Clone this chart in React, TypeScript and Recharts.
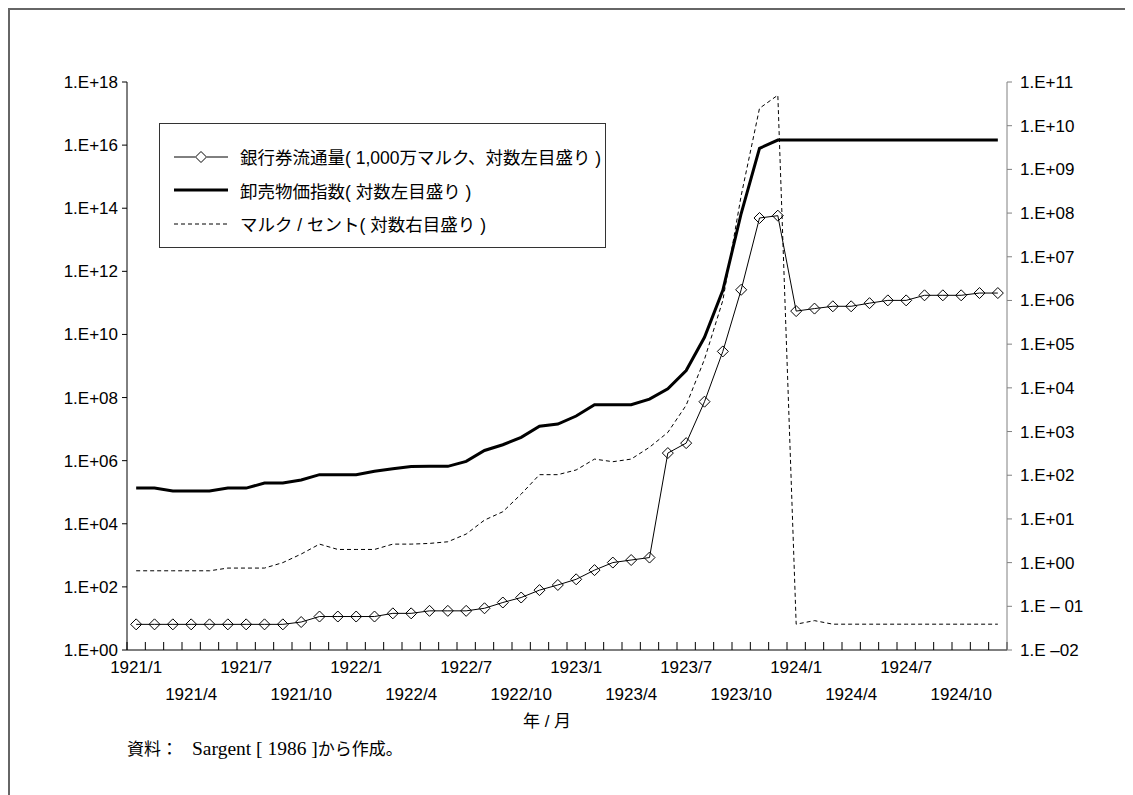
import { Legend, Line, LineChart, XAxis, YAxis } from "recharts";

const months = [
  "1921/1", "1921/2", "1921/3", "1921/4", "1921/5", "1921/6",
  "1921/7", "1921/8", "1921/9", "1921/10", "1921/11", "1921/12",
  "1922/1", "1922/2", "1922/3", "1922/4", "1922/5", "1922/6",
  "1922/7", "1922/8", "1922/9", "1922/10", "1922/11", "1922/12",
  "1923/1", "1923/2", "1923/3", "1923/4", "1923/5", "1923/6",
  "1923/7", "1923/8", "1923/9", "1923/10", "1923/11", "1923/12",
  "1924/1", "1924/2", "1924/3", "1924/4", "1924/5", "1924/6",
  "1924/7", "1924/8", "1924/9", "1924/10", "1924/11", "1924/12",
];

// 銀行券流通量 (1,000万マルク, left log axis)
const banknotes = [
  6.5, 6.5, 6.5, 6.5, 6.5, 6.5, 6.5, 6.5, 6.5, 7.7, 11.5, 11.5,
  11.5, 11.5, 14.5, 14.5, 17.4, 17.4, 17.4, 21, 32, 46, 79, 115,
  174, 340, 590, 710, 850, 1.74e6, 3.6e6, 7.4e7, 2.9e9, 2.6e11, 4.9e13, 5.8e13,
  5.5e10, 6.6e10, 7.8e10, 7.8e10, 9.8e10, 1.2e11, 1.2e11, 1.74e11, 1.74e11, 1.74e11, 2.05e11, 2.05e11,
];

// 卸売物価指数 (left log axis)
const wholesale = [
  1.35e5, 1.35e5, 1.1e5, 1.1e5, 1.1e5, 1.35e5, 1.35e5, 1.95e5, 1.95e5, 2.45e5, 3.6e5, 3.6e5,
  3.6e5, 4.6e5, 5.5e5, 6.5e5, 6.6e5, 6.6e5, 9.5e5, 2.1e6, 3.2e6, 5.5e6, 1.23e7, 1.45e7,
  2.6e7, 5.9e7, 5.9e7, 5.9e7, 8.9e7, 1.9e8, 7.2e8, 8.1e9, 2.5e11, 6.8e13, 7.9e15, 1.45e16,
  1.45e16, 1.45e16, 1.45e16, 1.45e16, 1.45e16, 1.45e16, 1.45e16, 1.45e16, 1.45e16, 1.45e16, 1.45e16, 1.45e16,
];

// マルク / セント (right log axis)
const exchange = [
  0.65, 0.65, 0.65, 0.65, 0.65, 0.75, 0.75, 0.75, 1.0, 1.57, 2.65, 2.0,
  2.0, 2.0, 2.65, 2.65, 2.75, 3.0, 4.5, 9.4, 14.6, 37, 103, 103,
  132, 234, 204, 234, 437, 955, 4000, 4.5e4, 1.0e6, 2.5e8, 2.5e10, 5.0e10,
  0.039, 0.047, 0.039, 0.039, 0.039, 0.039, 0.039, 0.039, 0.039, 0.039, 0.039, 0.039,
];

const leftTicks = [1, 1e2, 1e4, 1e6, 1e8, 1e10, 1e12, 1e14, 1e16, 1e18];
const rightTicks = [1e-2, 1e-1, 1, 1e1, 1e2, 1e3, 1e4, 1e5, 1e6, 1e7, 1e8, 1e9, 1e10, 1e11];

const seriesNames = [
  "銀行券流通量( 1,000万マルク、対数左目盛り )",
  "卸売物価指数( 対数左目盛り )",
  "マルク / セント( 対数右目盛り )",
];

const data = months.map((month, i) => ({
  i,
  month,
  banknotes: banknotes[i],
  wholesale: wholesale[i],
  exchange: exchange[i],
}));

const boundaryTicks = months.map((_, i) => i - 0.5).concat(months.length - 0.5);
const labelTicks = months.map((_, i) => i).filter((i) => i % 3 === 0);
const xDomain = [-0.5, months.length - 0.5];

const sans = "'Liberation Sans', Arial, 'Noto Sans CJK JP', sans-serif";
const serif = "'Liberation Serif', 'Times New Roman', serif";

const exp10 = (v: number) => Math.round(Math.log10(v));

const fmtLeft = (v: number) => `1.E+${String(exp10(v)).padStart(2, "0")}`;

const fmtRight = (v: number) => {
  const e = exp10(v);
  if (e === -1) return "1.E – 01";
  if (e < 0) return `1.E –${String(-e).padStart(2, "0")}`;
  return `1.E+${String(e).padStart(2, "0")}`;
};

const Diamond = (props: any) => {
  const { cx, cy } = props;
  if (cx == null || cy == null) return null;
  const r = 5.5;
  return (
    <path
      d={`M${cx},${cy - r}L${cx + r},${cy}L${cx},${cy + r}L${cx - r},${cy}Z`}
      fill="none"
      stroke="#000"
      strokeWidth={1}
    />
  );
};

const MonthTick = (props: any) => {
  const { x, y, payload } = props;
  const row = (payload.value / 3) % 2;
  return (
    <text
      x={x}
      y={y + (row === 0 ? 22 : 49)}
      textAnchor="middle"
      fontSize={17}
      fontFamily={sans}
      fill="#000"
    >
      {months[payload.value]}
    </text>
  );
};

const LegendBox = () => (
  <div
    style={{
      border: "1px solid #333",
      boxSizing: "border-box",
      width: 447,
      height: 125,
      paddingTop: 16,
      paddingLeft: 14,
      background: "#fff",
      fontFamily: sans,
      fontSize: 17.5,
      color: "#000",
    }}
  >
    {seriesNames.map((name, k) => (
      <div key={name} style={{ display: "flex", alignItems: "center", height: 33.5 }}>
        <svg width={54} height={16} style={{ marginRight: 12 }}>
          {k === 0 && (
            <>
              <line x1={0} y1={8} x2={21} y2={8} stroke="#000" strokeWidth={1} />
              <line x1={33} y1={8} x2={54} y2={8} stroke="#000" strokeWidth={1} />
              <path d="M27,2.5L32.5,8L27,13.5L21.5,8Z" fill="none" stroke="#000" />
            </>
          )}
          {k === 1 && <line x1={0} y1={8} x2={54} y2={8} stroke="#000" strokeWidth={3} />}
          {k === 2 && (
            <line x1={0} y1={8} x2={54} y2={8} stroke="#000" strokeWidth={1} strokeDasharray="4 3" />
          )}
        </svg>
        <span>{name}</span>
      </div>
    ))}
  </div>
);

export default function App() {
  return (
    <div
      style={{
        position: "relative",
        width: 1130,
        height: 800,
        borderTop: "2px solid #666",
        borderLeft: "2px solid #666",
        background: "#fff",
      }}
    >
      <style>{"body{overflow:hidden}"}</style>
      <LineChart
        width={1110}
        height={740}
        data={data}
        margin={{ top: 72, right: 23, left: 0, bottom: 19 }}
      >
        <XAxis
          xAxisId="a_ticks"
          type="number"
          dataKey="i"
          domain={xDomain}
          ticks={boundaryTicks}
          interval={0}
          tickFormatter={() => ""}
          tickSize={-8}
          tickMargin={0}
          height={1}
          axisLine={{ stroke: "#000" }}
          tickLine={{ stroke: "#000" }}
          allowDataOverflow
        />
        <XAxis
          xAxisId="b_labels"
          type="number"
          dataKey="i"
          domain={xDomain}
          ticks={labelTicks}
          interval={0}
          tick={<MonthTick />}
          tickSize={0}
          tickMargin={0}
          height={80}
          axisLine={false}
          tickLine={false}
          allowDataOverflow
          label={{
            value: "年 / 月",
            position: "insideBottom",
            offset: 4,
            dx: -20,
            fill: "#000",
            fontSize: 17,
            fontFamily: sans,
          }}
        />
        <YAxis
          yAxisId="L"
          scale="log"
          domain={[1, 1e18]}
          ticks={leftTicks}
          interval={0}
          tickFormatter={fmtLeft}
          width={117}
          tickSize={5}
          tickMargin={4}
          axisLine={{ stroke: "#000" }}
          tickLine={{ stroke: "#000" }}
          tick={{ fill: "#000", fontSize: 17, fontFamily: sans }}
          allowDataOverflow
        />
        <YAxis
          yAxisId="R"
          orientation="right"
          scale="log"
          domain={[1e-2, 1e11]}
          ticks={rightTicks}
          interval={0}
          tickFormatter={fmtRight}
          width={90}
          tickSize={5}
          tickMargin={8}
          axisLine={{ stroke: "#808080" }}
          tickLine={{ stroke: "#808080" }}
          tick={{ fill: "#000", fontSize: 17, fontFamily: sans, textAnchor: "start" }}
          allowDataOverflow
        />
        <Legend
          layout="vertical"
          align="center"
          verticalAlign="middle"
          wrapperStyle={{ left: 149, top: 113, width: 447 }}
          content={<LegendBox />}
        />
        <Line
          xAxisId="a_ticks"
          yAxisId="R"
          dataKey="exchange"
          name={seriesNames[2]}
          stroke="#000"
          strokeWidth={1}
          strokeDasharray="4 3"
          dot={false}
          type="linear"
          isAnimationActive={false}
        />
        <Line
          xAxisId="a_ticks"
          yAxisId="L"
          dataKey="wholesale"
          name={seriesNames[1]}
          stroke="#000"
          strokeWidth={3}
          dot={false}
          type="linear"
          isAnimationActive={false}
        />
        <Line
          xAxisId="a_ticks"
          yAxisId="L"
          dataKey="banknotes"
          name={seriesNames[0]}
          stroke="#000"
          strokeWidth={1}
          dot={<Diamond />}
          type="linear"
          isAnimationActive={false}
        />
      </LineChart>
      <div
        style={{
          position: "absolute",
          left: 117,
          top: 725,
          fontSize: 17,
          fontFamily: sans,
          color: "#000",
          whiteSpace: "nowrap",
        }}
      >
        資料：<span style={{ fontFamily: serif, fontSize: 19.5, marginLeft: 14 }}>Sargent [ 1986 ]</span>から作成。
      </div>
    </div>
  );
}
